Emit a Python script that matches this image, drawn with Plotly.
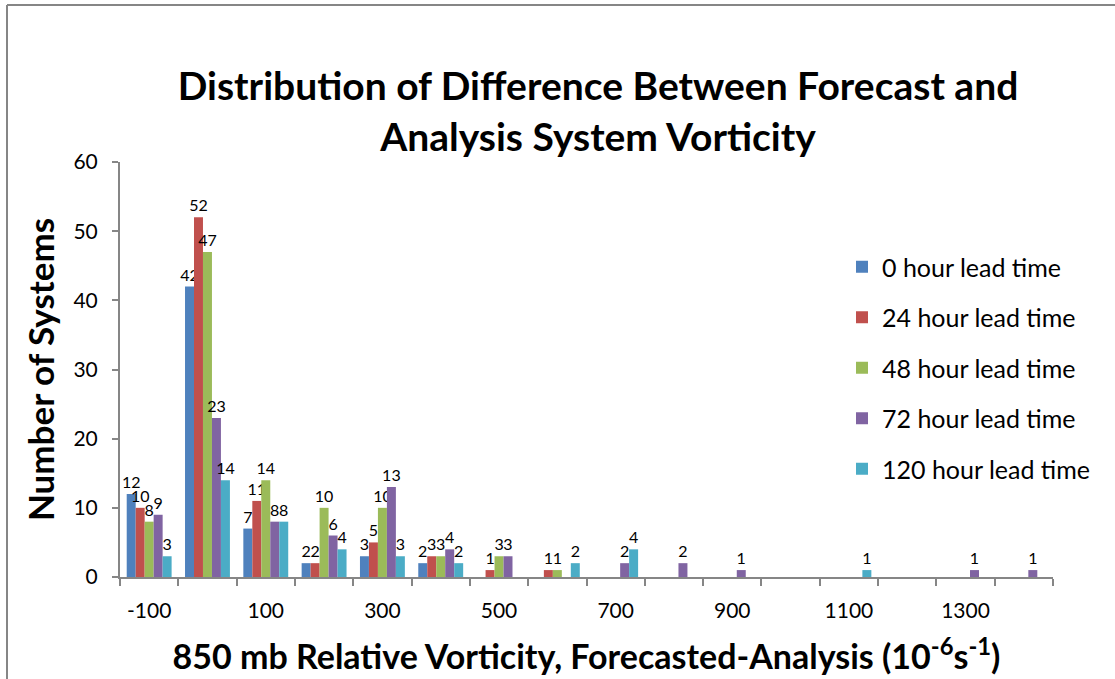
import plotly.graph_objects as go

categories = [-100, 0, 100, 200, 300, 400, 500, 600, 700, 800, 900, 1000, 1100, 1200, 1300, 1400]
tick_labels = ["-100", "100", "300", "500", "700", "900", "1100", "1300"]
tick_positions = [-100, 100, 300, 500, 700, 900, 1100, 1300]

series_names = ["0 hour lead time", "24 hour lead time", "48 hour lead time",
                "72 hour lead time", "120 hour lead time"]
lead_0 = [12, 42, 7, 2, 3, 2, 0, 0, 0, 0, 0, 0, 0, 0, 0, 0]
lead_24 = [10, 52, 11, 2, 5, 3, 1, 1, 0, 0, 0, 0, 0, 0, 0, 0]
lead_48 = [8, 47, 14, 10, 10, 3, 3, 1, 0, 0, 0, 0, 0, 0, 0, 0]
lead_72 = [9, 23, 8, 6, 13, 4, 3, 0, 2, 2, 1, 0, 0, 0, 1, 1]
lead_120 = [3, 14, 8, 4, 3, 2, 0, 2, 4, 0, 0, 0, 1, 0, 0, 0]
colors = ["#4F81BD", "#C0504D", "#9BBB59", "#8064A2", "#4BACC6"]

FONT = "Lato"
W, H = 1115, 679
ML, MR, MT, MB = 120, 62, 162, 102
PW, PH = W - ML - MR, H - MT - MB

fig = go.Figure()
for name, vals, col in zip(series_names, [lead_0, lead_24, lead_48, lead_72, lead_120], colors):
    fig.add_trace(go.Bar(
        x=categories, y=vals, name=name, marker=dict(color=col, line=dict(width=0)),
        text=[str(v) if v else "" for v in vals], textposition="outside", constraintext="none",
        textfont=dict(family=FONT, size=16, color="#000000"), cliponaxis=False,
        legendgroup=name,
    ))

def px_x(p):
    return (p - ML) / PW

def px_y(p):
    return (H - MB - p) / PH

grey = "#868686"
fig.update_layout(
    width=W, height=H,
    margin=dict(l=ML, r=MR, t=MT, b=MB, autoexpand=False),
    paper_bgcolor="white", plot_bgcolor="white",
    barmode="group", bargap=0.23, bargroupgap=0,
    font=dict(family=FONT, color="#000000"),
    uniformtext=dict(mode=False),
    title=dict(text="<b>Distribution of Difference Between Forecast and<br>Analysis System Vorticity</b>",
               x=598 / W, xanchor="center", y=1 - 100 / H, yanchor="middle",
               xref="container", yref="container",
               font=dict(family=FONT, size=39, color="#000000")),
    legend=dict(x=px_x(842), y=px_y(244), xanchor="left", yanchor="top",
                font=dict(family=FONT, size=25, color="#000000"),
                tracegroupgap=15, bgcolor="rgba(0,0,0,0)", itemwidth=30),
    xaxis=dict(range=[-150, 1450], tickmode="array", tickvals=tick_positions, ticktext=tick_labels,
               ticks="outside", ticklen=14, tickcolor="rgba(0,0,0,0)", automargin=False,
               showline=True, linecolor=grey, linewidth=2, showgrid=False, zeroline=False,
               tickfont=dict(family=FONT, size=21, color="#000000"),
               minor=dict(tickmode="array", tickvals=[c - 50 for c in categories] + [1450],
                          ticks="outside", ticklen=7, tickcolor=grey, tickwidth=2, showgrid=False),
               title=dict(text="<b>850 mb Relative Vorticity, Forecasted-Analysis (10<sup>-6</sup>s<sup>-1</sup>)</b>",
                          font=dict(family=FONT, size=34, color="#000000"), standoff=24)),
    yaxis=dict(range=[0, 60], dtick=10, ticks="outside", ticklen=6, tickcolor=grey, tickwidth=2,
               ticklabelstandoff=10, automargin=False,
               showline=True, linecolor=grey, linewidth=2, showgrid=False, zeroline=False,
               tickfont=dict(family=FONT, size=21, color="#000000"),
               title=dict(text="<b>Number of Systems</b>", font=dict(family=FONT, size=35, color="#000000"),
                          standoff=8)),
    shapes=[
        dict(type="line", xref="paper", yref="paper", x0=px_x(7), x1=px_x(1115), y0=px_y(5), y1=px_y(5),
             line=dict(color=grey, width=2)),
        dict(type="line", xref="paper", yref="paper", x0=px_x(7), x1=px_x(7), y0=px_y(5), y1=px_y(690),
             line=dict(color=grey, width=2)),
    ],
)

fig.write_html("out.html")
